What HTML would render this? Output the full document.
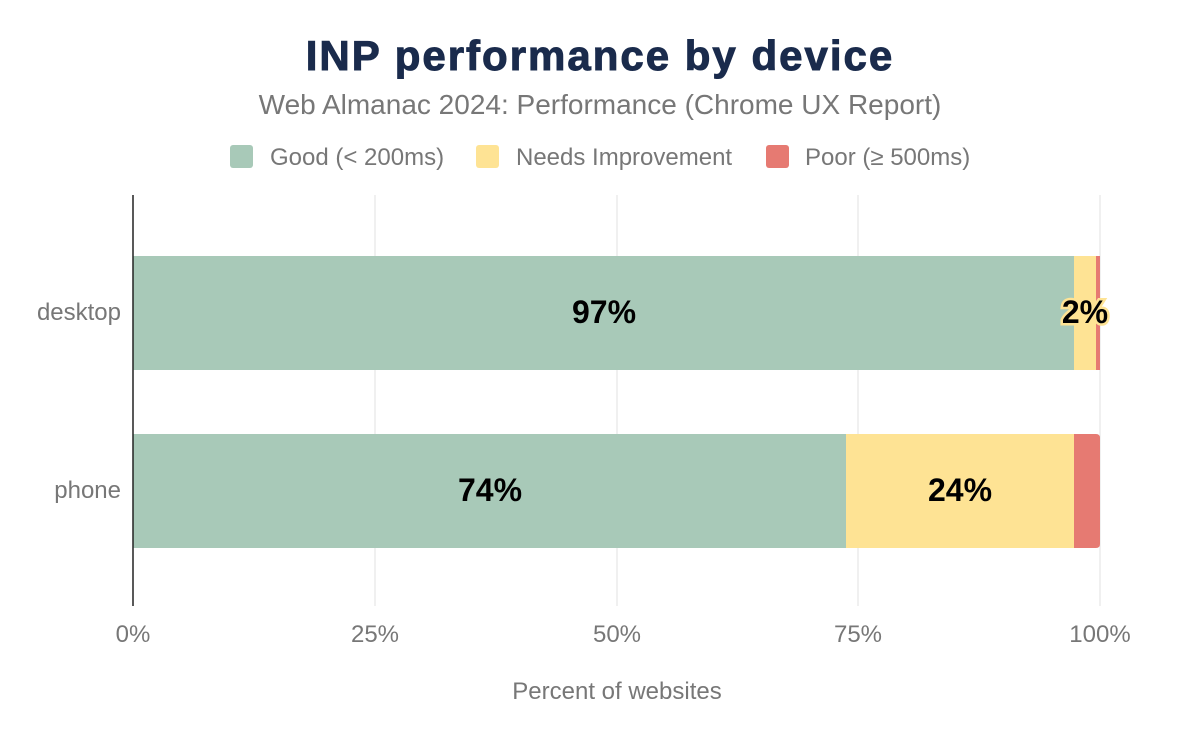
<!DOCTYPE html>
<html><head><style>body{margin:0;background:#fff}</style></head><body>
<svg width="1200" height="742" xmlns="http://www.w3.org/2000/svg" font-family="Liberation Sans, sans-serif">
<rect width="1200" height="742" fill="#fff"/>
<text x="600" y="70" text-anchor="middle" font-size="42" font-weight="bold" letter-spacing="2" fill="#1a2b4c" stroke="#1a2b4c" stroke-width="1">INP performance by device</text>
<text x="600" y="114" text-anchor="middle" font-size="28" fill="#777">Web Almanac 2024: Performance (Chrome UX Report)</text>
<rect x="230" y="145" width="23" height="23" rx="3" fill="#a8c9b8"/>
<text x="270" y="165" font-size="24" fill="#777">Good (&lt; 200ms)</text>
<rect x="476" y="145" width="23" height="23" rx="3" fill="#fee394"/>
<text x="516" y="165" font-size="24" fill="#777">Needs Improvement</text>
<rect x="766" y="145" width="23" height="23" rx="3" fill="#e67a72"/>
<text x="805" y="165" font-size="24" fill="#777">Poor (≥ 500ms)</text>
<g stroke="#ebebeb" stroke-width="1.5">
<line x1="375" y1="195" x2="375" y2="606"/><line x1="617" y1="195" x2="617" y2="606"/><line x1="858" y1="195" x2="858" y2="606"/><line x1="1100" y1="195" x2="1100" y2="606"/>
</g>
<rect x="133" y="256" width="941" height="114" fill="#a8c9b8"/>
<rect x="1074" y="256" width="22" height="114" fill="#fee394"/>
<rect x="1096" y="256" width="4" height="114" fill="#e67a72"/>
<rect x="133" y="434" width="713" height="114" fill="#a8c9b8"/>
<rect x="846" y="434" width="228" height="114" fill="#fee394"/>
<path d="M1074 434 H1096 Q1100 434 1100 438 V544 Q1100 548 1096 548 H1074 Z" fill="#e67a72"/>
<line x1="133" y1="195" x2="133" y2="606" stroke="#222" stroke-width="1.5"/>
<g font-size="32" font-weight="bold" text-anchor="middle">
<text x="604" y="323">97%</text>
<text x="1085" y="323" stroke="#fee394" stroke-width="5" paint-order="stroke">2%</text>
<text x="490" y="501">74%</text>
<text x="960" y="501">24%</text>
</g>
<g font-size="24" fill="#777">
<text x="121" y="320" text-anchor="end">desktop</text>
<text x="121" y="498" text-anchor="end">phone</text>
<text x="133" y="642" text-anchor="middle">0%</text>
<text x="375" y="642" text-anchor="middle">25%</text>
<text x="617" y="642" text-anchor="middle">50%</text>
<text x="858" y="642" text-anchor="middle">75%</text>
<text x="1100" y="642" text-anchor="middle">100%</text>
<text x="617" y="699" text-anchor="middle">Percent of websites</text>
</g>
</svg>
</body></html>
